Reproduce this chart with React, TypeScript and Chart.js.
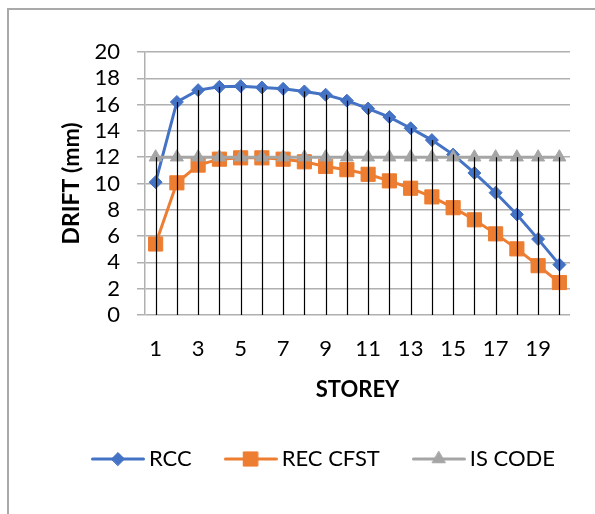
import React, { useEffect, useRef } from 'react';
import { Chart, registerables } from 'chart.js';
import { drawPoint } from 'chart.js/helpers';

Chart.register(...registerables);

const STOREYS = ['1', '2', '3', '4', '5', '6', '7', '8', '9', '10', '11', '12', '13', '14', '15', '16', '17', '18', '19', '20'];
const RCC = [10.1, 16.2, 17.1, 17.35, 17.4, 17.3, 17.2, 17.0, 16.75, 16.3, 15.7, 15.05, 14.2, 13.3, 12.2, 10.8, 9.3, 7.65, 5.77, 3.83];
const REC_CFST = [5.4, 10.05, 11.4, 11.85, 11.95, 11.95, 11.85, 11.65, 11.3, 11.05, 10.7, 10.2, 9.64, 8.98, 8.16, 7.24, 6.17, 5.03, 3.75, 2.47];
const IS_CODE = [12, 12, 12, 12, 12, 12, 12, 12, 12, 12, 12, 12, 12, 12, 12, 12, 12, 12, 12, 12];
const SERIES_NAMES = ['RCC', 'REC CFST', 'IS CODE'];
const SERIES_COLORS = ['#4472C4', '#ED7D31', '#A5A5A5'];
const Y_MIN = 0;
const Y_MAX = 20;
const Y_STEP = 2;

const FONT = 'Lato';

function legendSample(color: string, style: string, radius: number): HTMLCanvasElement {
  const c = document.createElement('canvas');
  c.width = 54;
  c.height = 20;
  const ctx = c.getContext('2d')!;
  ctx.strokeStyle = color;
  ctx.lineWidth = 3;
  ctx.lineCap = 'round';
  ctx.beginPath();
  ctx.moveTo(1.5, 10);
  ctx.lineTo(52.5, 10);
  ctx.stroke();
  ctx.fillStyle = color;
  ctx.lineWidth = 1;
  drawPoint(ctx, { pointStyle: style as any, radius, borderWidth: 1, rotation: 0 }, 27, 10);
  return c;
}

const dropLines = {
  id: 'dropLines',
  afterDatasetsDraw(chart: any) {
    const { ctx, scales } = chart;
    const x = scales.x;
    const y = scales.y;
    ctx.save();
    ctx.strokeStyle = '#000';
    ctx.lineWidth = 1.2;
    STOREYS.forEach((_, i) => {
      const top = Math.max(RCC[i], REC_CFST[i], IS_CODE[i]);
      const px = Math.round(x.getPixelForValue(i)) + 0.5;
      ctx.beginPath();
      ctx.moveTo(px, y.getPixelForValue(top));
      ctx.lineTo(px, y.getPixelForValue(0));
      ctx.stroke();
    });
    ctx.restore();
  },
};

export default function App() {
  const ref = useRef<HTMLCanvasElement | null>(null);

  useEffect(() => {
    if (!ref.current) return;
    Chart.defaults.font.family = FONT;
    Chart.defaults.color = '#000';
    const samples = [
      legendSample(SERIES_COLORS[0], 'rectRot', 6.5),
      legendSample(SERIES_COLORS[1], 'rect', 10),
      legendSample(SERIES_COLORS[2], 'triangle', 7.5),
    ];
    const chart = new Chart(ref.current, {
      type: 'line',
      data: {
        labels: STOREYS,
        datasets: [
          {
            label: SERIES_NAMES[0],
            data: RCC,
            borderColor: SERIES_COLORS[0],
            backgroundColor: SERIES_COLORS[0],
            borderWidth: 3,
            pointStyle: 'rectRot',
            pointRadius: 6.5,
            pointBorderWidth: 1,
            order: 3,
          },
          {
            label: SERIES_NAMES[1],
            data: REC_CFST,
            borderColor: SERIES_COLORS[1],
            backgroundColor: SERIES_COLORS[1],
            borderWidth: 3,
            pointStyle: 'rect',
            pointRadius: 10,
            pointBorderWidth: 1,
            order: 2,
          },
          {
            label: SERIES_NAMES[2],
            data: IS_CODE,
            borderColor: SERIES_COLORS[2],
            backgroundColor: SERIES_COLORS[2],
            borderWidth: 3,
            pointStyle: 'triangle',
            pointRadius: 7.5,
            pointBorderWidth: 1,
            order: 1,
          },
        ],
      },
      options: {
        responsive: false,
        animation: false,
        layout: { padding: { left: 58, top: 52, right: 0, bottom: 34 } },
        plugins: {
          tooltip: { enabled: false },
          legend: {
            position: 'bottom',
            labels: {
              usePointStyle: true,
              pointStyleWidth: 40,
              padding: 39,
              color: '#000',
              font: { size: 22, family: FONT },
              sort: (a: any, b: any) => a.datasetIndex - b.datasetIndex,
              generateLabels: (ch: any) => {
                const items = (Chart.defaults.plugins.legend.labels as any).generateLabels(ch);
                return items.map((it: any) => ({ ...it, pointStyle: samples[it.datasetIndex] }));
              },
            },
          },
        },
        scales: {
          x: {
            type: 'category',
            offset: true,
            grid: { display: false, drawTicks: false },
            border: { display: false },
            ticks: {
              autoSkip: false,
              maxRotation: 0,
              minRotation: 0,
              padding: 21,
              color: '#000',
              font: { size: 22, family: FONT },
              callback: (_v: any, i: number) => (i % 2 === 0 ? STOREYS[i] : ''),
            },
            title: {
              display: true,
              text: 'STOREY',
              color: '#000',
              font: { size: 22, weight: 'bold', family: FONT },
              padding: { top: 0, bottom: 6 },
            },
            afterFit: (s: any) => {
              s.height = 94;
            },
          },
          y: {
            min: Y_MIN,
            max: Y_MAX,
            ticks: { stepSize: Y_STEP, autoSkip: false, padding: 17, color: '#000', font: { size: 22, family: FONT } },
            grid: { color: '#b0b0b0', lineWidth: 1.5, tickLength: 8, drawTicks: true },
            border: { display: true, color: '#b0b0b0', width: 1.5 },
            title: {
              display: true,
              text: 'DRIFT (mm)',
              color: '#000',
              font: { size: 23, weight: 'bold', family: FONT, lineHeight: 1 },
              padding: { top: 2.5, bottom: 0 },
            },
            afterFit: (s: any) => {
              s.width = 87;
            },
          },
          y2: {
            position: 'right',
            display: true,
            grid: { display: false, drawTicks: false },
            border: { display: false },
            ticks: { display: false },
            afterFit: (s: any) => {
              s.width = 25;
            },
          },
        },
      },
      plugins: [dropLines],
    } as any);
    return () => chart.destroy();
  }, []);

  return (
    <div style={{ position: 'absolute', left: 0, top: 0, width: 595, height: 514, background: '#fff', overflow: 'hidden' }}>
      <div
        style={{
          position: 'absolute',
          left: 7,
          top: 8,
          width: 588,
          height: 506,
          boxSizing: 'border-box',
          borderTop: '2px solid #a9a9a9',
          borderLeft: '2px solid #a9a9a9',
        }}
      />
      <canvas ref={ref} width={595} height={514} style={{ position: 'absolute', left: 0, top: 0 }} />
    </div>
  );
}
